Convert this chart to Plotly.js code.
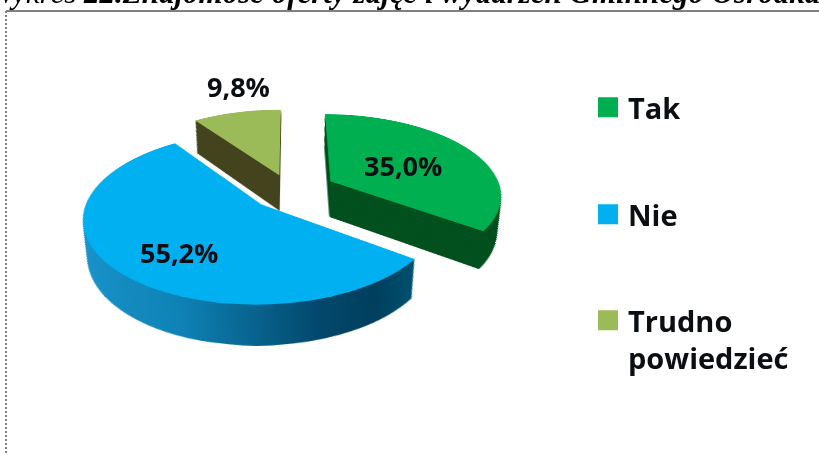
<!DOCTYPE html>
<html>
<head>
<meta charset="utf-8">
<script src="https://cdn.plot.ly/plotly-3.0.1.min.js"></script>
<style>
html,body{margin:0;padding:0;background:#fff;overflow:hidden}
#wrap{position:relative;width:819px;height:455px;overflow:hidden;background:#fff;filter:blur(0.4px)}
#pies{position:absolute;left:-160px;top:-259px;width:900px;height:900px;
  transform:perspective(980px) rotateX(62deg);transform-origin:50% 50%}
#over{position:absolute;left:0;top:0;width:819px;height:455px}
</style>
</head>
<body>
<div id="wrap"><div id="pies"></div><div id="over"></div></div>
<script>
const categories = ['Tak', 'Nie', 'Trudno<br>powiedzieć'];
const values = [35.0, 55.2, 9.8];
const topColors = ['#00b050', '#00b0f0', '#9bbb59'];
const sideColors = ['#03501f', '#0a6f9e', '#44441f'];
const pulls = [0.27, 0.23, 0.21];
const titleText = 'Wykres <b>22.Znajomość oferty zajęć i wydarzeń Gminnego Ośrodka</b>';

// pie geometry
const S = 900, R = 171, half = R * 1.27;
const depth = 72, steps = 40, shrink = 0.00117;

function layer(shift, colors) {
  const h = half * (1 - shrink * shift);
  return {
    type: 'pie', values: values, labels: categories, sort: false,
    direction: 'clockwise', rotation: 0, pull: pulls, textinfo: 'none',
    hoverinfo: 'skip', showlegend: false,
    marker: {colors: colors, line: {width: 0}},
    domain: {x: [(S/2 - h)/S, (S/2 + h)/S],
             y: [(S/2 - h - shift)/S, (S/2 + h - shift)/S]}
  };
}
const traces = [];
for (let k = steps; k > 0; k--) traces.push(layer(k * depth / steps, sideColors));
traces.push(layer(0, topColors));

const fmt = v => v.toFixed(1).replace('.', ',') + '%';
const labelX = [403, 179, 238], labelY = [165, 252, 86];
const px = x => x / 819, py = y => 1 - y / 455;
const annotations = values.map((v, i) => ({
  xref: 'paper', yref: 'paper', x: px(labelX[i]), y: py(labelY[i]),
  xanchor: 'center', yanchor: 'middle',
  text: fmt(v), showarrow: false,
  font: {family: 'Open Sans', size: 27, weight: 700, color: '#0b0f14'}
}));
annotations.push({
  xref: 'paper', yref: 'paper', x: px(-13), y: py(12), xanchor: 'left', yanchor: 'bottom',
  text: '<i>' + titleText + '</i>', showarrow: false, align: 'left',
  font: {family: 'Liberation Serif', size: 31, color: '#000'}
});

const legendY = [107, 214, 320];
const legendTraces = categories.map((c, i) => ({
  type: 'scatter', mode: 'markers', x: [null], y: [null], name: c,
  legend: i === 0 ? 'legend' : 'legend' + (i + 1),
  marker: {symbol: 'square', size: 16, color: topColors[i], line: {width: 4, color: topColors[i]}},
  hoverinfo: 'skip'
}));
const legendBox = i => ({
  x: px(588), y: py(legendY[i] - 25), xanchor: 'left', yanchor: 'top', valign: 'top',
  bgcolor: 'rgba(0,0,0,0)', borderwidth: 0, itemwidth: 30,
  font: {family: 'Open Sans', size: 29, weight: 700, color: '#0b0f14'}
});

Plotly.newPlot('pies', traces, {
  width: S, height: S, margin: {l: 0, r: 0, t: 0, b: 0},
  paper_bgcolor: 'rgba(0,0,0,0)'
}, {staticPlot: true, displayModeBar: false}).then(gd => {
  const svg = gd.querySelector('.main-svg');
  const NS = 'http://www.w3.org/2000/svg';
  const grad = document.createElementNS(NS, 'linearGradient');
  grad.setAttribute('id', 'blueSide');
  [[0, '#1a94cc'], [0.35, '#0e82b4'], [0.72, '#03486c'], [0.88, '#003f5e'], [1, '#00506f']].forEach(s => {
    const st = document.createElementNS(NS, 'stop');
    st.setAttribute('offset', s[0]); st.setAttribute('stop-color', s[1]);
    grad.appendChild(st);
  });
  svg.querySelector('defs').appendChild(grad);
  const trs = gd.querySelectorAll('.pielayer .trace');
  trs.forEach((t, idx) => {
    if (idx === trs.length - 1) return;
    const p = t.querySelectorAll('.slice path.surface')[1];
    if (p) p.style.fill = 'url(#blueSide)';
  });
});

Plotly.newPlot('over', legendTraces, {
  width: 819, height: 455, margin: {l: 0, r: 0, t: 0, b: 0},
  paper_bgcolor: 'rgba(0,0,0,0)', plot_bgcolor: 'rgba(0,0,0,0)',
  xaxis: {visible: false}, yaxis: {visible: false},
  showlegend: true,
  legend: legendBox(0), legend2: legendBox(1), legend3: legendBox(2),
  annotations: annotations,
  shapes: [
    {type: 'line', xref: 'paper', yref: 'paper', x0: px(6), x1: 1, y0: py(11), y1: py(11),
     line: {color: '#808080', width: 2}},
    {type: 'line', xref: 'paper', yref: 'paper', x0: px(6), x1: px(6), y0: py(11), y1: 0,
     line: {color: '#808080', width: 2, dash: '2px,2px'}}
  ]
}, {staticPlot: true, displayModeBar: false}).then(gd => {
  // wider line spacing for the two-line legend entry
  const lines = [...gd.querySelectorAll('.legendtext tspan.line')];
  const last = lines[lines.length - 1];
  if (last && lines.length > 1) {
    const y = parseFloat(last.getAttribute('y'));
    if (!isNaN(y)) last.setAttribute('y', y + 8);
    last.setAttribute('dy', '1.58em');
  }
  gd.querySelectorAll('.scrollbox').forEach(b => b.removeAttribute('clip-path'));
});
</script>
</body>
</html>
